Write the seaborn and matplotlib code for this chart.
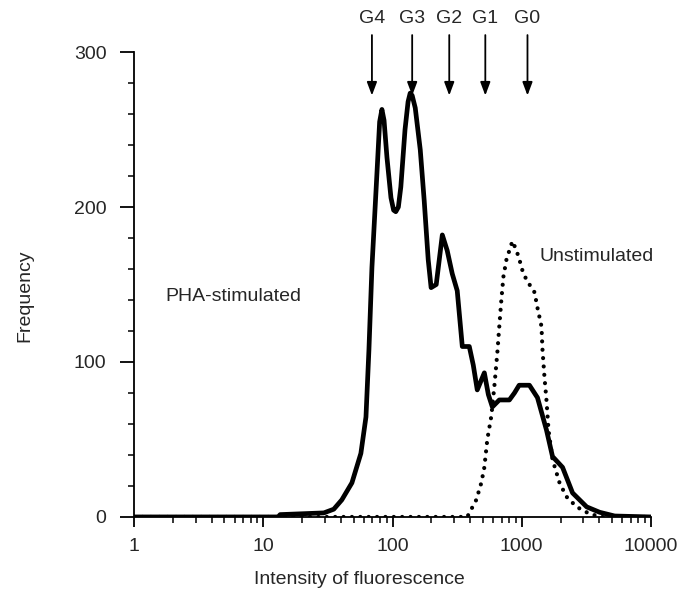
import numpy as np
import pandas as pd
import matplotlib
matplotlib.use("Agg")
import matplotlib.pyplot as plt
from matplotlib.ticker import FixedLocator, FixedFormatter, LogLocator, NullFormatter
import seaborn as sns

# PHA-stimulated (solid)
pha_x = [1, 13, 13.5, 29.4, 35.1, 40.5, 48.5, 56.9, 62.3, 65.7, 69.3, 75.8, 79.5, 82.8, 86, 90.6, 97.3,
         102, 106, 111, 116, 125, 132, 137, 142, 150, 164, 176, 189, 199, 218, 243, 265, 290, 317, 347,
         393, 422, 453, 514, 552, 593, 671, 803, 879, 956, 1148, 1325, 1557, 1733, 2073, 2477, 3185,
         4018, 5250, 10000]
pha_y = [0, 0, 1.5, 2.6, 5, 11, 22, 41, 64.5, 108, 161, 222, 255, 263, 256, 232, 206,
         198, 197, 200, 213, 250, 268, 273.5, 272, 264, 237, 204, 166, 148, 150, 182, 172, 157, 146, 110,
         110, 98, 82, 93, 79, 71, 75.5, 75.5, 80, 85, 85, 77, 56, 39, 32, 15.5, 6.5,
         3, 0.6, 0]

# Unstimulated (dotted)
uns_x = [1, 379, 445, 487, 514, 542, 582, 614, 648, 671, 696, 722, 762, 803, 848, 911, 961,
         1014, 1089, 1191, 1257, 1325, 1423, 1449, 1502, 1557, 1614, 1733, 1964, 2226, 2663,
         3185, 4000, 10000]
uns_y = [0, 0, 11, 22, 32, 50, 65, 84, 106, 123, 140, 155, 166, 172, 178, 172, 166,
         159, 153, 148, 145, 135, 123, 108, 90, 75, 56, 37, 22, 13, 6.5,
         3, 0, 0]

gen_labels = ["G4", "G3", "G2", "G1", "G0"]
gen_x = [69.3, 142, 275, 523, 1109]

sns.set_style("ticks")
plt.rcParams["font.family"] = ["Liberation Sans", "DejaVu Sans"]

FS = 14

fig = plt.figure(figsize=(6.88, 5.99), dpi=100)
ax = fig.add_axes([0.195, 0.137, 0.751, 0.776])

df_pha = pd.DataFrame({"x": pha_x, "y": pha_y})
df_uns = pd.DataFrame({"x": uns_x, "y": uns_y})

sns.lineplot(data=df_uns, x="x", y="y", ax=ax, color="black", lw=3.0,
             linestyle=(0, (0.01, 2.0)), dash_capstyle="round", sort=False)
sns.lineplot(data=df_pha, x="x", y="y", ax=ax, color="black", lw=3.4, sort=False,
             solid_joinstyle="round", solid_capstyle="round")

ax.set_xscale("log")
ax.set_xlim(1, 10000)
ax.set_ylim(0, 300)

ax.xaxis.set_major_locator(FixedLocator([1, 10, 100, 1000, 10000]))
ax.xaxis.set_major_formatter(FixedFormatter(["1", "10", "100", "1000", "10000"]))
ax.xaxis.set_minor_locator(LogLocator(base=10, subs=np.arange(2, 10), numticks=20))
ax.xaxis.set_minor_formatter(NullFormatter())
ax.yaxis.set_major_locator(FixedLocator([0, 100, 200, 300]))
ax.yaxis.set_minor_locator(FixedLocator([20, 40, 60, 80, 120, 140, 160, 180, 220, 240, 260, 280]))

for s in ["top", "right"]:
    ax.spines[s].set_visible(False)
for s in ["left", "bottom"]:
    ax.spines[s].set_linewidth(1.3)
    ax.spines[s].set_color("black")

ax.tick_params(axis="y", which="major", length=10, width=1.3, pad=10, labelsize=FS, color="black")
ax.tick_params(axis="y", which="minor", length=4, width=1.1, color="black")
ax.tick_params(axis="x", which="major", length=7, width=1.3, pad=8, labelsize=FS, color="black")
ax.tick_params(axis="x", which="minor", length=4, width=1.1, color="black")

ax.set_xlabel("")
ax.set_ylabel("")
fig.text(359 / 688, 1 - 580 / 599, "Intensity of fluorescence", fontsize=FS, ha="center", va="center")
fig.text(25 / 688, 1 - 296 / 599, "Frequency", fontsize=FS, ha="center", va="center", rotation=90)

ax.text(1.74, 142, "PHA-stimulated", fontsize=FS, ha="left", va="center")
ax.text(1374, 168, "Unstimulated", fontsize=FS, ha="left", va="center")

for lab, gx in zip(gen_labels, gen_x):
    ax.annotate("", xy=(gx, 272), xytext=(gx, 311),
                arrowprops=dict(arrowstyle="-|>,head_length=0.8,head_width=0.3",
                                color="black", lw=1.3, shrinkA=0, shrinkB=0),
                annotation_clip=False)
    ax.text(gx, 322, lab, fontsize=FS, ha="center", va="center", clip_on=False)

fig.savefig("out.png", dpi=100)
